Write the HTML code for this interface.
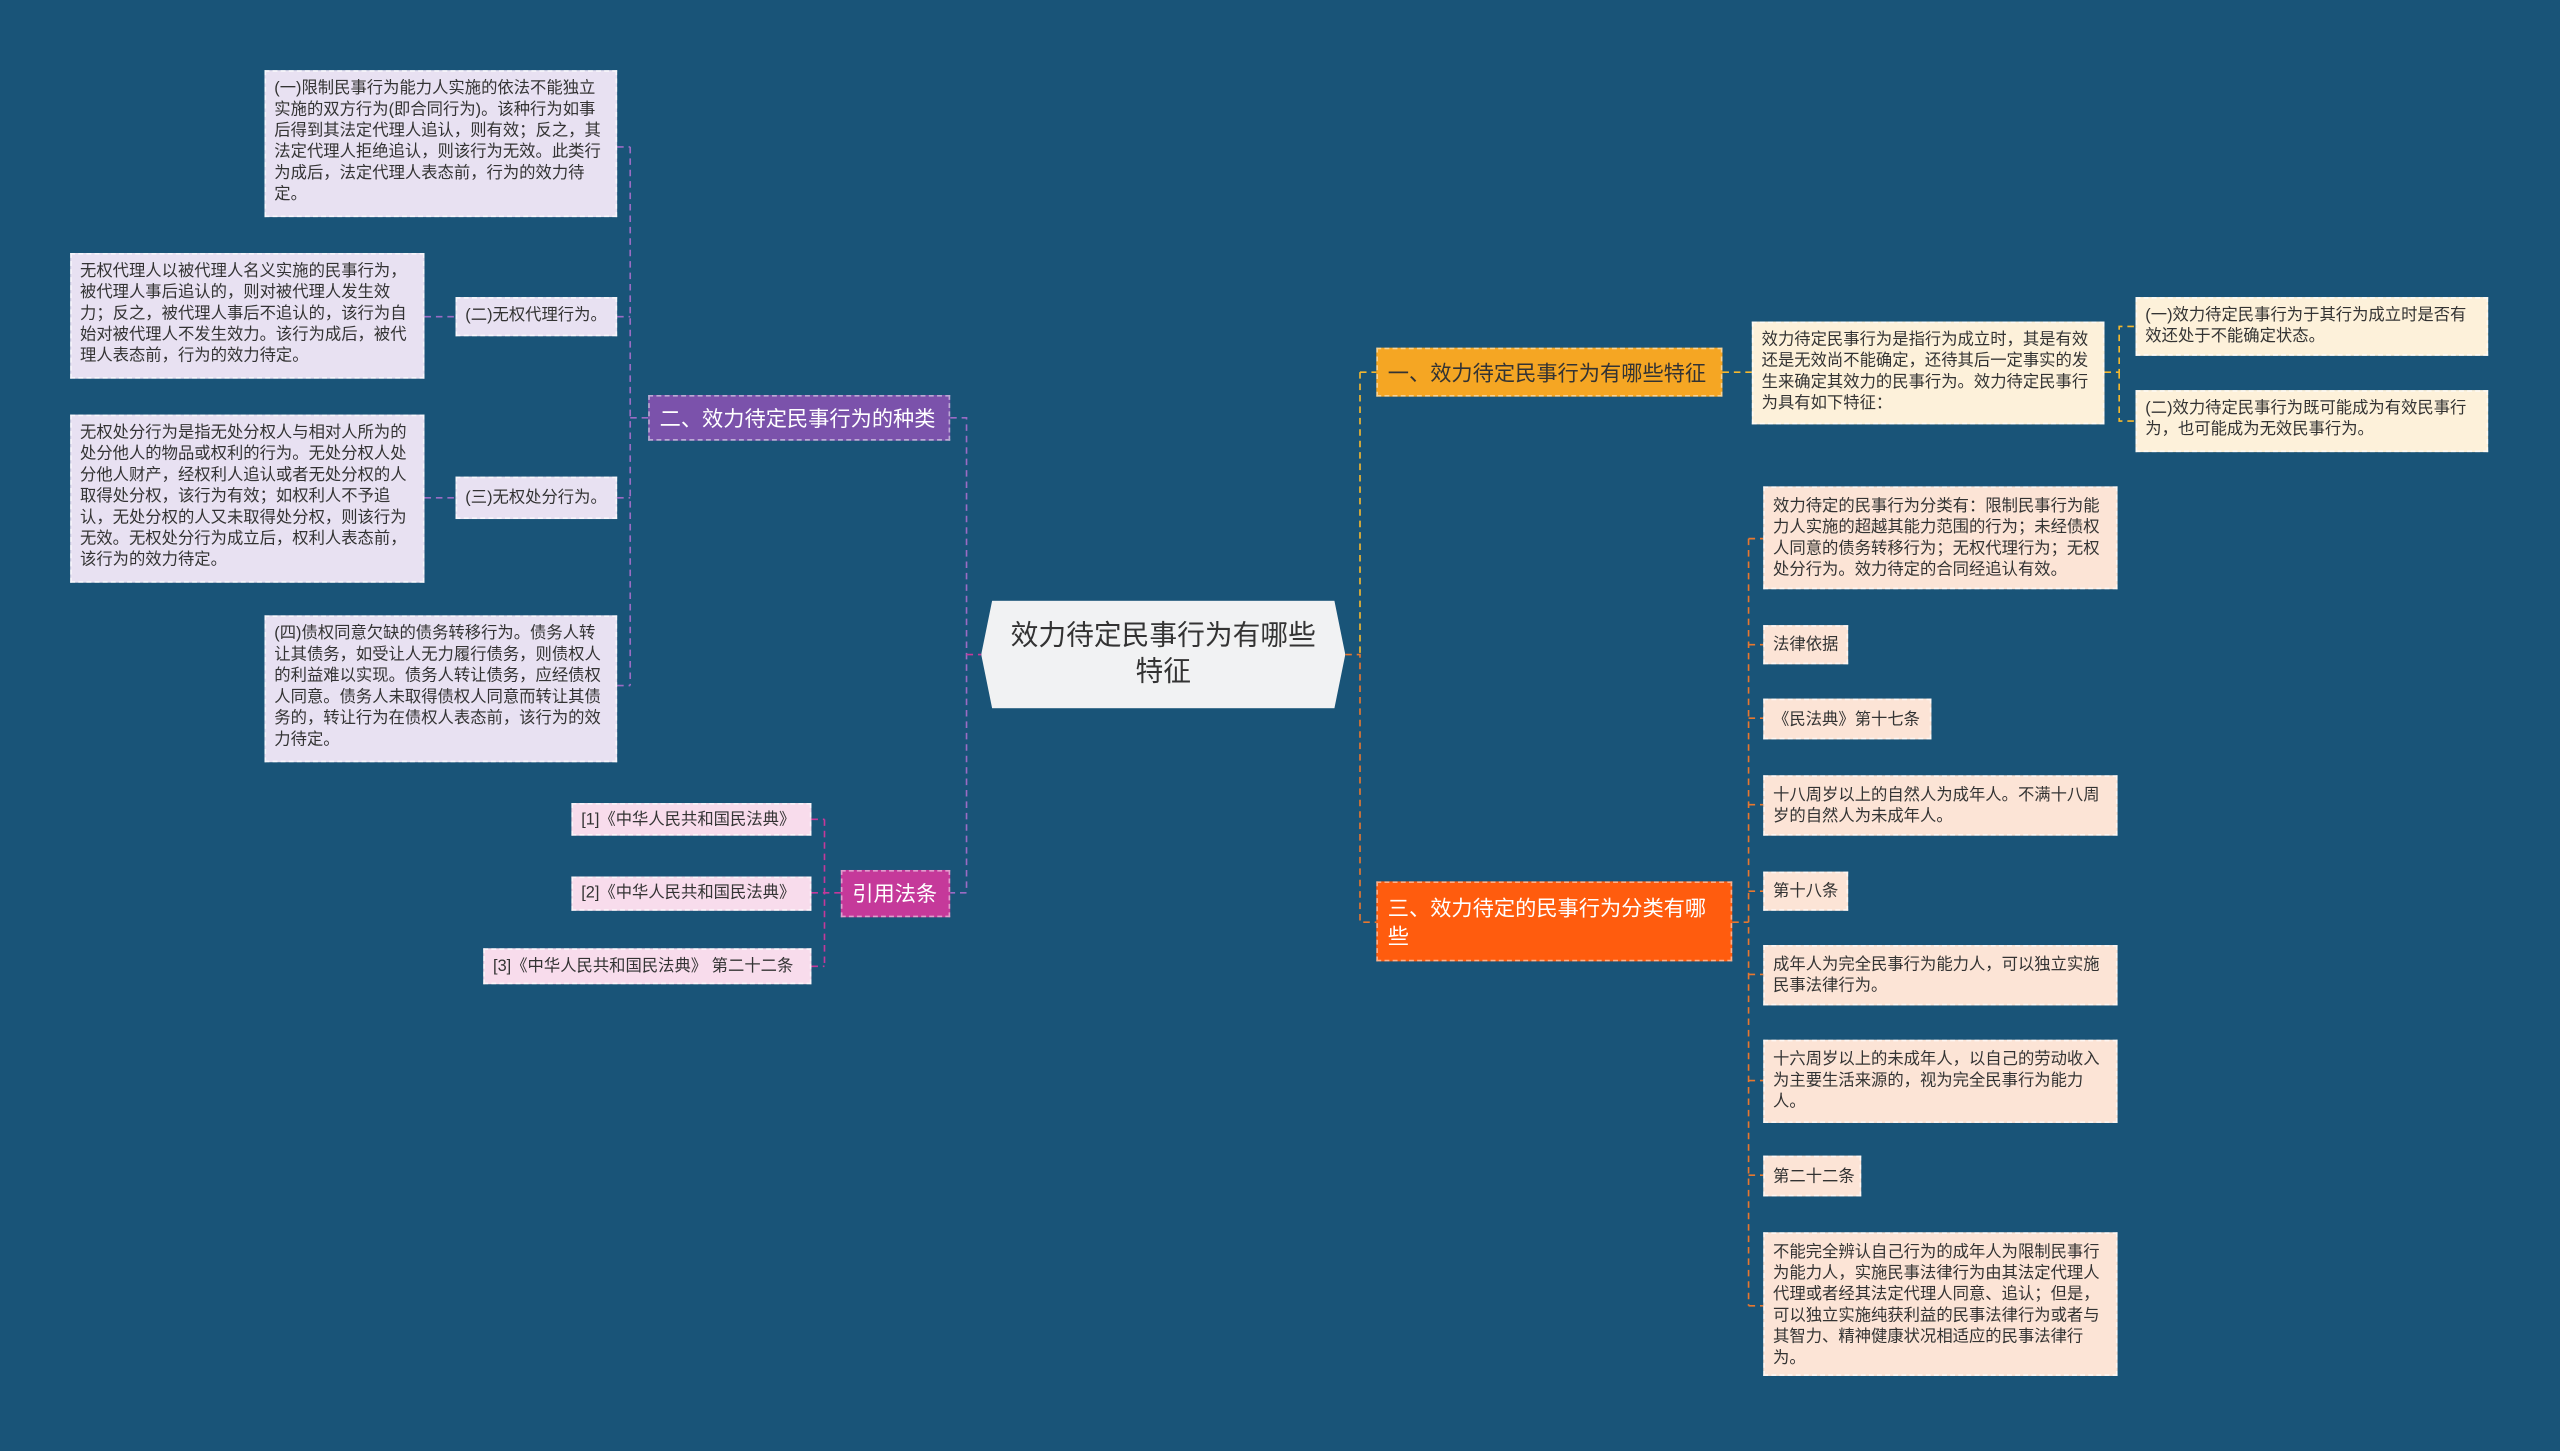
<!DOCTYPE html>
<html><head><meta charset="utf-8"><style>
html,body{margin:0;padding:0;}
body{width:2560px;height:1451px;overflow:hidden;background:#195478;}
#w{position:absolute;left:0;top:0;width:1568px;height:889px;transform:scale(1.63265,1.6322);transform-origin:0 0;font-family:"Liberation Sans","Noto Sans CJK SC",sans-serif;}
.n{position:absolute;box-sizing:border-box;font-size:10px;line-height:13px;padding:4px 4px 4px 5px;border:1px dashed rgba(255,255,255,.7);color:#333;}
.s{white-space:nowrap;}
.p{background:#e8e1f2;}
.y{background:#fdf1da;}
.o{background:#fce4d6;}
.k{background:#f8dcec;}
.m{position:absolute;box-sizing:border-box;font-size:13px;line-height:17px;padding:0 6px;display:flex;align-items:center;border:1px dashed rgba(255,255,255,.5);}
svg{position:absolute;left:0;top:0;}
</style></head><body><div id="w">
<svg width="1568" height="889" fill="none" stroke-dasharray="4 3" stroke-width="1">
<g stroke="#9b6cc4">
<path d="M386 90V420M378 90H386M378 420H386M260 194H279M260 305H279M378 194H386M378 305H386M386 256H397"/>
<path d="M582 256H592V547H582"/>
</g>
<g stroke="#c5399a"><path d="M592 401H601M505 502V592M497 502H505M497 547H515M497 592H505"/></g>
<g stroke="#f5b82e"><path d="M833 228V401M833 228H843M1055 228H1073M1289 228H1298V200H1308M1298 228V258H1308"/></g>
<g stroke="#e8772e"><path d="M824 401H833V565H843M1061 565H1071M1071 330V800M1071 330H1080M1071 395H1080M1071 440H1080M1071 493H1080M1071 546H1080M1071 597H1080M1071 662H1080M1071 720H1080M1071 800H1080"/></g>
</svg>
<div style="position:absolute;left:601px;top:368px;width:223px;height:66px;background:#f1f2f3;clip-path:polygon(3% 0,97% 0,100% 50%,97% 100%,3% 100%,0 50%);display:flex;align-items:center;justify-content:center;text-align:center;font-size:17px;line-height:22px;color:#333;">效力待定民事行为有哪些<br>特征</div>

<div class="m" style="left:397px;top:242px;width:185px;height:28px;background:#7b52ab;color:#fff;">二、效力待定民事行为的种类</div>
<div class="n p" style="left:162px;top:43px;width:216px;height:90px;">(一)限制民事行为能力人实施的依法不能独立实施的双方行为(即合同行为)。该种行为如事后得到其法定代理人追认，则有效；反之，其法定代理人拒绝追认，则该行为无效。此类行为成后，法定代理人表态前，行为的效力待定。</div>
<div class="n p" style="left:43px;top:155px;width:217px;height:77px;">无权代理人以被代理人名义实施的民事行为，被代理人事后追认的，则对被代理人发生效力；反之，被代理人事后不追认的，该行为自始对被代理人不发生效力。该行为成后，被代理人表态前，行为的效力待定。</div>
<div class="n p s" style="left:279px;top:182px;width:99px;height:24px;">(二)无权代理行为。</div>
<div class="n p" style="left:43px;top:254px;width:217px;height:103px;">无权处分行为是指无处分权人与相对人所为的处分他人的物品或权利的行为。无处分权人处分他人财产，经权利人追认或者无处分权的人取得处分权，该行为有效；如权利人不予追认，无处分权的人又未取得处分权，则该行为无效。无权处分行为成立后，权利人表态前，该行为的效力待定。</div>
<div class="n p s" style="left:279px;top:292px;width:99px;height:26px;padding-top:6px;">(三)无权处分行为。</div>
<div class="n p" style="left:162px;top:377px;width:216px;height:90px;">(四)债权同意欠缺的债务转移行为。债务人转让其债务，如受让人无力履行债务，则债权人的利益难以实现。债务人转让债务，应经债权人同意。债务人未取得债权人同意而转让其债务的，转让行为在债权人表态前，该行为的效力待定。</div>

<div class="m" style="left:515px;top:533px;width:67px;height:29px;background:#c5399a;color:#fff;">引用法条</div>
<div class="n k s" style="left:350px;top:492px;width:147px;height:20px;padding-top:3px;">[1]《中华人民共和国民法典》</div>
<div class="n k s" style="left:350px;top:537px;width:147px;height:21px;padding-top:3px;">[2]《中华人民共和国民法典》</div>
<div class="n k s" style="left:296px;top:581px;width:201px;height:22px;padding-top:4px;">[3]《中华人民共和国民法典》 第二十二条</div>

<div class="m" style="left:843px;top:213px;width:212px;height:30px;background:#f5a623;color:#333;">一、效力待定民事行为有哪些特征</div>
<div class="n y" style="left:1073px;top:197px;width:216px;height:63px;">效力待定民事行为是指行为成立时，其是有效还是无效尚不能确定，还待其后一定事实的发生来确定其效力的民事行为。效力待定民事行为具有如下特征：</div>
<div class="n y" style="left:1308px;top:182px;width:216px;height:36px;">(一)效力待定民事行为于其行为成立时是否有效还处于不能确定状态。</div>
<div class="n y" style="left:1308px;top:239px;width:216px;height:38px;">(二)效力待定民事行为既可能成为有效民事行为，也可能成为无效民事行为。</div>

<div class="m" style="left:843px;top:540px;width:218px;height:49px;background:#ff5c0e;color:#fff;">三、效力待定的民事行为分类有哪些</div>
<div class="n o" style="left:1080px;top:298px;width:217px;height:63px;padding-top:5px;">效力待定的民事行为分类有：限制民事行为能力人实施的超越其能力范围的行为；未经债权人同意的债务转移行为；无权代理行为；无权处分行为。效力待定的合同经追认有效。</div>
<div class="n o s" style="left:1080px;top:383px;width:52px;height:24px;padding-top:5px;">法律依据</div>
<div class="n o s" style="left:1080px;top:428px;width:103px;height:25px;padding-top:6px;">《民法典》第十七条</div>
<div class="n o" style="left:1080px;top:475px;width:217px;height:37px;padding-top:5px;">十八周岁以上的自然人为成年人。不满十八周岁的自然人为未成年人。</div>
<div class="n o s" style="left:1080px;top:534px;width:52px;height:24px;padding-top:5px;">第十八条</div>
<div class="n o" style="left:1080px;top:579px;width:217px;height:37px;padding-top:5px;">成年人为完全民事行为能力人，可以独立实施民事法律行为。</div>
<div class="n o" style="left:1080px;top:637px;width:217px;height:51px;padding-top:5px;">十六周岁以上的未成年人，以自己的劳动收入为主要生活来源的，视为完全民事行为能力人。</div>
<div class="n o s" style="left:1080px;top:708px;width:60px;height:25px;padding-top:6px;">第二十二条</div>
<div class="n o" style="left:1080px;top:755px;width:217px;height:88px;padding-top:5px;">不能完全辨认自己行为的成年人为限制民事行为能力人，实施民事法律行为由其法定代理人代理或者经其法定代理人同意、追认；但是，可以独立实施纯获利益的民事法律行为或者与其智力、精神健康状况相适应的民事法律行为。</div>
</div></body></html>
